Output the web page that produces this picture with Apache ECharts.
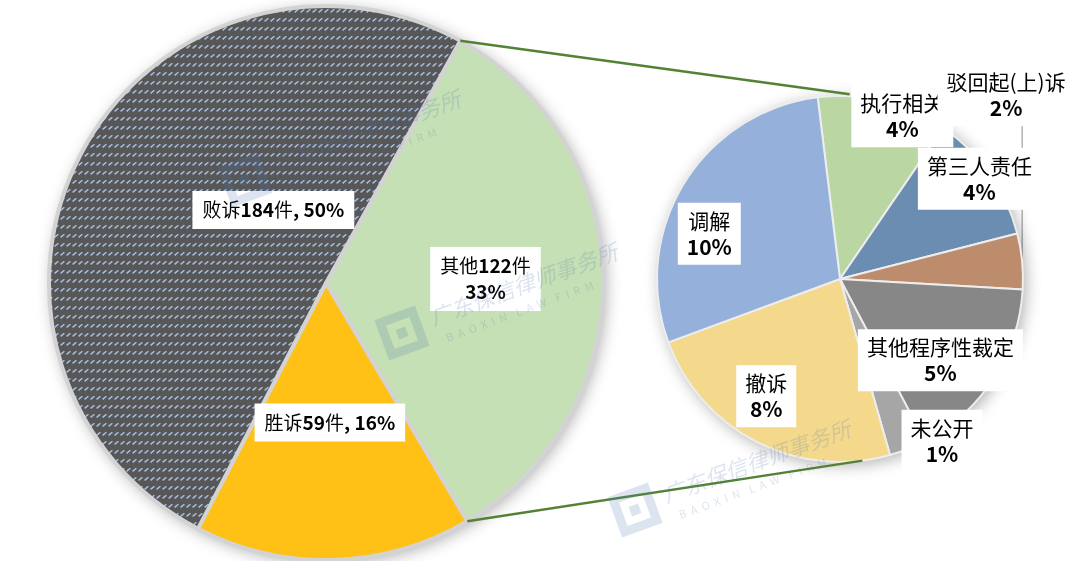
<!DOCTYPE html>
<html><head><meta charset="utf-8">
<script src="https://cdn.jsdelivr.net/npm/echarts@6/dist/echarts.min.js"></script>
<style>html,body{margin:0;padding:0;background:#fff}#c{width:1080px;height:561px}</style>
</head><body><div id="c"></div>
<script>
// ---- data ----
const mainCategories = ['其他', '胜诉', '败诉'];
const mainCounts = [122, 59, 184];
const subCategories = ['执行相关', '第三人责任', '驳回起(上)诉', '其他程序性裁定', '未公开', '撤诉', '调解'];
const subCounts = [14, 14, 6, 20, 4, 29, 35];

// ---- styles / layout ----
const FONT = "'Noto Sans CJK SC', 'Noto Sans', sans-serif";
const L = { cx: 326, cy: 283, r: 277, start: 29 };   // start: degrees clockwise from 12 o'clock
const R = { cx: 840, cy: 279, r: 183, start: -7 };
const mainColors = ['#C5E0B4', '#FFC116', null];
const subColors = ['#B9D6A3', '#6A8DB1', '#BC8C6C', '#878787', '#A6A6A6', '#F4D98D', '#95B0DA'];
const mainLabelShift = [[18, -2], [0, -2], [72, -6]];
const subLabelShift = [[40, -71], [62, -46], [72, -175], [21, 30], [67, 74], [-31, 33], [-50, 4]];

const total = mainCounts.reduce((a, b) => a + b, 0);
const pct = v => Math.round(v / total * 100) + '%';

// hatch pattern for 败诉
const pat = document.createElement('canvas');
pat.width = 6; pat.height = 9;
const pc = pat.getContext('2d');
pc.fillStyle = '#575757'; pc.fillRect(0, 0, 6, 9);
pc.strokeStyle = '#A9C0E6'; pc.lineWidth = 1.4;
pc.beginPath(); pc.moveTo(0.6, 3.4); pc.lineTo(4.4, 0.2); pc.stroke();

const mainData = mainCategories.map((n, i) => ({
  name: n, value: mainCounts[i],
  itemStyle: { color: mainColors[i] || { image: pat, repeat: 'repeat' } }
}));
const subData = subCategories.map((n, i) => ({
  name: n, value: subCounts[i], itemStyle: { color: subColors[i] }
}));

function polar(P, deg, rad) {
  const a = deg * Math.PI / 180;
  return [P.cx + rad * Math.sin(a), P.cy - rad * Math.cos(a)];
}
// geometry derived from data
const otherEnd = L.start + mainCounts[0] / total * 360;
const subSum = subCounts.reduce((a, b) => a + b, 0);
let acc = R.start;
const subMid = subCounts.map(v => { const s = acc; acc += v / subSum * 360; return (s + acc) / 2; });

const pTop = polar(L, L.start, L.r);
const pBot = polar(L, otherEnd, L.r);
const qTop = polar(R, 3, R.r + 2);
const qBot = polar(R, 173, R.r);

// leader line for 驳回起(上)诉
const bi = 2;
const edge = polar(R, subMid[bi], R.r);
const lblC = polar(R, subMid[bi], R.r / 2);
const lblBottom = lblC[1] + subLabelShift[bi][1] + 31;

const shadowBase = (P) => ({
  type: 'pie', silent: true, center: [P.cx, P.cy], radius: P.r, z: 1,
  label: { show: false }, labelLine: { show: false },
  itemStyle: { color: '#fff', shadowBlur: 16, shadowColor: 'rgba(0,0,0,0.32)', shadowOffsetX: 3, shadowOffsetY: 3 },
  data: [{ value: 1 }]
});

function watermark(x, y) {
  const c = 'rgba(80,120,175,0.20)';
  return {
    type: 'group', x: x, y: y, rotation: 20 * Math.PI / 180, silent: true,
    children: [
      { type: 'rect', z: 50, shape: { x: -17, y: -17, width: 34, height: 34 }, style: { fill: 'none', stroke: c, lineWidth: 9 } },
      { type: 'rect', z: 50, shape: { x: -5, y: -5, width: 10, height: 10 }, style: { fill: c } },
      { type: 'text', z: 50, x: 32, y: -4, style: { text: '广东保信律师事务所', fill: c, font: 'italic 22px ' + FONT, textVerticalAlign: 'middle' } },
      { type: 'text', z: 50, x: 40, y: 20, style: { text: 'B  A  O  X  I  N    L  A  W    F  I  R  M', fill: c, font: '11px ' + FONT, textVerticalAlign: 'middle' } }
    ]
  };
}

const richStyle = (size) => ({
  a: { fontFamily: FONT, fontSize: size, fontWeight: 'normal', color: '#000', lineHeight: 26 },
  b: { fontFamily: FONT, fontSize: size, fontWeight: 'bold', color: '#000', lineHeight: 26 }
});

const chart = echarts.init(document.getElementById('c'));
chart.setOption({
  animation: false,
  backgroundColor: '#fff',
  series: [
    shadowBase(L),
    shadowBase(R),
    {
      type: 'pie', center: [L.cx, L.cy], radius: L.r, startAngle: 90 - L.start, clockwise: true,
      z: 3, avoidLabelOverlap: false, silent: true,
      itemStyle: { borderColor: '#D3D3D3', borderWidth: 4 },
      label: {
        show: true, position: 'inside', color: '#000', fontFamily: FONT, fontSize: 19,
        backgroundColor: '#fff', padding: [6, 10], lineHeight: 26, rich: richStyle(19),
        formatter: p => '{a|' + p.name + '}{b|' + p.value + '}{a|件}' +
          (p.dataIndex === 0 ? '\n{b|' + pct(p.value) + '}' : '{b|, ' + pct(p.value) + '}')
      },
      labelLine: { show: false },
      labelLayout: p => ({ dx: mainLabelShift[p.dataIndex][0], dy: mainLabelShift[p.dataIndex][1] }),
      data: mainData
    },
    {
      type: 'pie', center: [R.cx, R.cy], radius: R.r, startAngle: 90 - R.start, clockwise: true,
      z: 3, avoidLabelOverlap: false, silent: true,
      itemStyle: { borderColor: '#EDEDED', borderWidth: 2 },
      label: {
        show: true, position: 'inside', color: '#000', fontFamily: FONT, fontSize: 21,
        backgroundColor: '#fff', padding: [5, 9], lineHeight: 26, rich: richStyle(21),
        formatter: p => '{a|' + p.name + '}\n{b|' + pct(p.value) + '}'
      },
      labelLine: { show: false },
      labelLayout: p => ({ dx: subLabelShift[p.dataIndex][0], dy: subLabelShift[p.dataIndex][1] }),
      data: subData
    }
  ],
  graphic: [
    { type: 'line', z: 4, silent: true, shape: { x1: pTop[0], y1: pTop[1], x2: qTop[0], y2: qTop[1] }, style: { stroke: '#548235', lineWidth: 2.4 } },
    { type: 'line', z: 4, silent: true, shape: { x1: pBot[0], y1: pBot[1], x2: qBot[0], y2: qBot[1] }, style: { stroke: '#548235', lineWidth: 2.4 } },
    { type: 'line', z: 0, silent: true, shape: { x1: edge[0], y1: edge[1], x2: edge[0], y2: lblBottom }, style: { stroke: '#8C8C8C', lineWidth: 1 } },
    watermark(245, 180),
    watermark(402, 333),
    watermark(635, 510)
  ]
});
</script>
</body></html>
